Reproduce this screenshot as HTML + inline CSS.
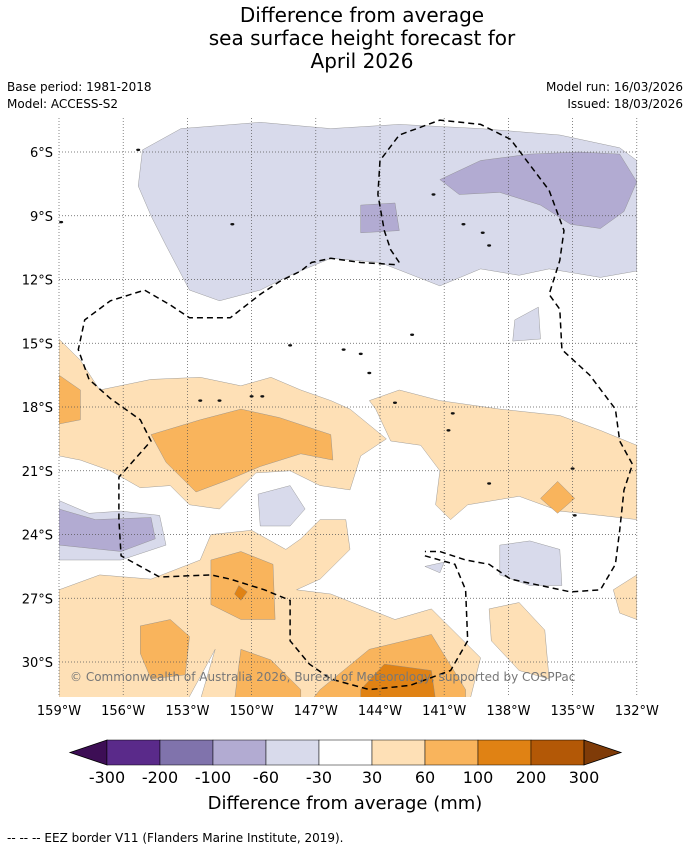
<!DOCTYPE html>
<html><head><meta charset="utf-8"><style>
body{margin:0;background:#fff;font-family:"DejaVu Sans",sans-serif}
</style></head><body>
<svg id="s" width="690" height="850" xmlns="http://www.w3.org/2000/svg" font-family="DejaVu Sans, sans-serif">
<g font-size="20" text-anchor="middle" fill="#000">
<text x="362" y="22">Difference from average</text>
<text x="362" y="45">sea surface height forecast for</text>
<text x="362" y="68">April 2026</text>
</g>
<g font-size="12" fill="#000">
<text x="7" y="91">Base period: 1981-2018</text>
<text x="7" y="108">Model: ACCESS-S2</text>
<text x="683" y="91" text-anchor="end">Model run: 16/03/2026</text>
<text x="683" y="108" text-anchor="end">Issued: 18/03/2026</text>
</g>
<defs><clipPath id="mc"><rect x="59" y="118" width="578" height="579"/></clipPath></defs>
<g id="map" clip-path="url(#mc)"></g>
<g id="grid"></g>
<g id="eez"></g>
<text x="70" y="681" font-size="12" fill="#777">© Commonwealth of Australia 2026, Bureau of Meteorology, supported by COSPPac</text>
<g id="axes" font-size="13" fill="#000"></g>
<g id="cbar"></g>
<text x="345" y="809" font-size="18" text-anchor="middle">Difference from average (mm)</text>
<text x="7" y="842" font-size="12">--  --  -- EEZ border V11 (Flanders Marine Institute, 2019).</text>
</svg>
<script>
const lonTicks=[-159,-156,-153,-150,-147,-144,-141,-138,-135,-132];
const latTicks=[-6,-9,-12,-15,-18,-21,-24,-27,-30];
const cbLevels=[-300,-200,-100,-60,-30,30,60,100,200,300];
const cbColors=["#3d0e55","#5a2a8a","#8073ac","#b2abd2","#d8daeb","#ffffff","#fee0b6","#f9b45c","#e08214","#b35806","#7f3b08"];
const polyLightPurple=[[[-155.1,-5.9],[-153.3,-4.9],[-149.6,-4.6],[-146.3,-4.9],[-143.1,-4.7],[-139.3,-4.9],[-135.6,-5.2],[-132.8,-5.8],[-132,-6.4],[-132,-11.6],[-133.7,-11.9],[-136.1,-11.5],[-137.5,-11.8],[-139.3,-11.5],[-141.2,-12.3],[-144,-11.2],[-146.3,-11],[-148.2,-11.8],[-149.6,-12.5],[-151.5,-13],[-152.9,-12.5],[-154,-10.4],[-154.7,-9],[-155.3,-7.6]],
[[-137.7,-13.9],[-136.6,-13.3],[-136.5,-14.8],[-137.8,-14.9]],
[[-159,-22.4],[-157.6,-23],[-156.1,-22.9],[-154.3,-23.1],[-154,-24.5],[-156.1,-25.2],[-159,-25.2]],
[[-149.7,-22.1],[-148.2,-21.7],[-147.5,-22.8],[-148.2,-23.6],[-149.6,-23.6]],
[[-138.4,-24.5],[-137,-24.3],[-135.6,-24.7],[-135.5,-26.4],[-137,-26.4],[-138.4,-25.9]],
[[-146.8,-27.6],[-146.1,-26.9],[-145,-27.5],[-146.1,-27.9]],
[[-141.9,-25.5],[-141,-25.3],[-141.2,-25.8]]];
const polyMidPurple=[[[-141.2,-7.3],[-139.3,-6.4],[-137,-6.1],[-134.7,-6],[-132.8,-6.1],[-132,-7.4],[-132.6,-8.8],[-133.7,-9.6],[-135.1,-9.4],[-136.5,-8.5],[-138.4,-7.9],[-140.3,-8]],
[[-144.9,-8.5],[-143.3,-8.4],[-143.1,-9.7],[-144.9,-9.8]],
[[-159,-22.8],[-157.3,-23.3],[-154.7,-23.2],[-154.5,-24.2],[-156.1,-24.8],[-159,-24.5]]];
const polyLightOrange=[[[-159,-14.8],[-158,-15.8],[-157.1,-17.2],[-154.7,-16.7],[-152.4,-16.6],[-150.5,-17],[-149.1,-16.6],[-147.7,-17.2],[-146.3,-17.7],[-145.4,-18.1],[-143.7,-19.5],[-144.9,-20.3],[-145.4,-21.9],[-146.8,-21.7],[-148.2,-21],[-149.8,-21.1],[-151.5,-22.8],[-152.9,-22.6],[-153.8,-21.7],[-155.2,-21.8],[-156.6,-21],[-158,-20.5],[-159,-20.3]],
[[-144.5,-17.7],[-143.1,-17.2],[-141.2,-17.7],[-138.4,-18.1],[-135.6,-18.4],[-133.7,-19.1],[-132,-19.8],[-132,-23.3],[-133.7,-23.1],[-135.6,-22.9],[-137.5,-22.2],[-139.9,-22.6],[-140.7,-23.3],[-141.4,-22.6],[-141.2,-21],[-142.1,-19.8],[-143.5,-19.6],[-144.2,-18.1]],
[[-159,-26.6],[-157.1,-25.9],[-154.7,-26.1],[-152.4,-25.2],[-151.9,-24],[-150,-23.8],[-148.4,-24.7],[-147.7,-24.2],[-146.8,-23.3],[-145.6,-23.3],[-145.4,-24.7],[-146.8,-26.1],[-147.9,-26.6],[-146.3,-26.8],[-143.3,-28],[-141.6,-27.5],[-139.3,-29.8],[-139.8,-31.8],[-152.4,-31.8],[-151.7,-29.4],[-153,-31.8],[-159,-31.8]],
[[-138.9,-27.5],[-137.5,-27.2],[-136.3,-28.5],[-136.1,-30.8],[-137.5,-30.4],[-138.8,-29]],
[[-133.1,-26.6],[-132,-25.9],[-132,-28],[-132.8,-27.7]]];
const polyMidOrange=[[[-154.7,-19.3],[-152.4,-18.6],[-150.5,-18.1],[-148.7,-18.5],[-146.3,-19.3],[-146.2,-20.5],[-147.7,-20.2],[-149.6,-20.8],[-151,-21.4],[-152.6,-22],[-154,-20.6]],
[[-159,-16.5],[-158,-17.2],[-158,-18.6],[-159,-18.8]],
[[-135.7,-21.5],[-134.9,-22.3],[-135.7,-23],[-136.5,-22.3]],
[[-151.9,-25.2],[-150.5,-24.8],[-149,-25.4],[-148.9,-28],[-150.5,-28],[-151.9,-27.3]],
[[-155.2,-28.3],[-153.8,-28],[-152.9,-28.8],[-153.1,-30.6],[-154.7,-30.8],[-155.2,-29.6]],
[[-150.5,-29.4],[-149.1,-29.9],[-147.7,-31.3],[-147.7,-31.8],[-150.8,-31.8]],
[[-146.8,-31.3],[-144.5,-29.4],[-141.6,-28.7],[-140,-31.3],[-140,-31.8],[-147.2,-31.8]]];
const polyDarkOrange=[[[-144.9,-31.3],[-143.8,-30.1],[-141.6,-30.4],[-141.4,-31.8],[-144.9,-31.8]],
[[-150.6,-26.4],[-150.2,-26.7],[-150.5,-27.1],[-150.8,-26.8]]];
const eezA=[[-143.1,-11.2],[-143.5,-10.6],[-143.8,-9.7],[-144.1,-8],[-144,-6.4],[-143.1,-5.2],[-141.2,-4.5],[-139.3,-4.7],[-137.9,-5.4],[-137,-6.6],[-136.1,-7.8],[-135.4,-9.7],[-135.6,-11.1],[-136.1,-12.7],[-135.6,-13.4],[-135.5,-15.3],[-134.2,-16.5],[-133,-18.1],[-132.8,-19.6],[-132.2,-20.7],[-132.6,-21.9],[-132.8,-23.8],[-133,-25.4],[-133.7,-26.6],[-135.1,-26.7],[-136.5,-26.4],[-137.9,-26.1],[-138.9,-25.4],[-140,-25.2],[-141.2,-24.8],[-141.9,-24.8]];
const eezB=[[-141.9,-25],[-140.5,-25.4],[-140,-26.6],[-139.9,-29],[-140.7,-30.4],[-142.6,-31.1],[-144.5,-31.3],[-146.3,-30.8],[-147.3,-30.1],[-148.2,-29],[-148.2,-27.1],[-149.4,-26.6],[-151,-26.1],[-151.9,-25.9],[-154.3,-26],[-156.1,-25],[-156.2,-23.3],[-156.2,-21.3],[-154.7,-19.6],[-155.2,-18.6],[-156.6,-17.6],[-157.6,-16.7],[-158.1,-15.3],[-157.8,-13.9],[-156.6,-13],[-155,-12.5],[-153.8,-13.2],[-152.9,-13.8],[-151,-13.8],[-149.6,-12.7],[-148.7,-12.1],[-147.7,-11.6],[-147.2,-11.2],[-146.3,-11],[-144.9,-11.2],[-143.3,-11.3]];
const islands=[[-152.4,-17.7],[-151.5,-17.7],[-149.5,-17.5],[-148.2,-15.1],[-145.7,-15.3],[-144.5,-16.4],[-143.3,-17.8],[-140.6,-18.3],[-139.2,-9.8],[-138.9,-10.4],[-140.1,-9.4],[-141.5,-8.0],[-150,-17.5],[-134.9,-23.1],[-140.8,-19.1],[-144.9,-15.5],[-158.9,-9.3],[-155.3,-5.9],[-150.9,-9.4],[-135,-20.9],[-138.9,-21.6],[-142.5,-14.6]];
const NS="http://www.w3.org/2000/svg";
const X=lon=>59+(lon+159)*21.4, Y=lat=>152+(-6-lat)*21.25;
function mk(t,a,p){const e=document.createElementNS(NS,t);for(const k in a)e.setAttribute(k,a[k]);p.appendChild(e);return e;}
const map=document.getElementById('map');
mk('rect',{x:59,y:118,width:578,height:579,fill:'#fff'},map);
function drawPolys(list,fill,name){for(const pg of list){const e=mk('polygon',{points:pg.map(p=>X(p[0]).toFixed(1)+','+Y(p[1]).toFixed(1)).join(' '),fill:fill,stroke:'#888','stroke-width':0.4},map);

}}
drawPolys(polyLightPurple,cbColors[4],'anomaly-minus30-region');
drawPolys(polyMidPurple,cbColors[3],'anomaly-minus60-region');
drawPolys(polyLightOrange,cbColors[6],'anomaly-plus30-region');
drawPolys(polyMidOrange,cbColors[7],'anomaly-plus60-region');
drawPolys(polyDarkOrange,cbColors[8],'anomaly-plus100-region');
for(const p of islands){const e=mk('ellipse',{cx:X(p[0]),cy:Y(p[1]),rx:2,ry:1.2,fill:'#111'},map);

}
const grid=document.getElementById('grid');
for(const l of lonTicks){mk('line',{x1:X(l),x2:X(l),y1:118,y2:697,stroke:'#555','stroke-width':0.7,'stroke-dasharray':'1,2'},grid);}
for(const l of latTicks){mk('line',{x1:59,x2:637,y1:Y(l),y2:Y(l),stroke:'#555','stroke-width':0.7,'stroke-dasharray':'1,2'},grid);}
const eez=document.getElementById('eez');
for(const seg of [eezA,eezB]){const e=mk('polyline',{points:seg.map(p=>X(p[0]).toFixed(1)+','+Y(p[1]).toFixed(1)).join(' '),fill:'none',stroke:'#000','stroke-width':1.5,'stroke-dasharray':'6,4'},eez);

}
const axes=document.getElementById('axes');
for(const l of lonTicks){const t=mk('text',{x:X(l),y:715,'text-anchor':'middle'},axes);t.textContent=(-l)+'°W';

}
for(const l of latTicks){const t=mk('text',{x:53,y:Y(l)+5,'text-anchor':'end'},axes);t.textContent=(-l)+'°S';

}
const cb=document.getElementById('cbar');
const bx0=107,bw=53,by=740,bh=25;
mk('polygon',{points:`70,${by+bh/2} ${bx0},${by} ${bx0},${by+bh}`,fill:cbColors[0],stroke:'#000','stroke-width':0.8},cb);
for(let i=1;i<cbColors.length-1;i++){const e=mk('rect',{x:bx0+(i-1)*bw,y:by,width:bw,height:bh,fill:cbColors[i],stroke:'#000','stroke-width':0.5},cb);

}
const xe=bx0+(cbColors.length-2)*bw;
mk('polygon',{points:`${xe},${by} ${xe+37},${by+bh/2} ${xe},${by+bh}`,fill:cbColors[cbColors.length-1],stroke:'#000','stroke-width':0.8},cb);
cbLevels.forEach((v,i)=>{const t=mk('text',{x:bx0+i*bw,y:783,'text-anchor':'middle','font-size':16},cb);t.textContent=v;

});
</script>
</body></html>
